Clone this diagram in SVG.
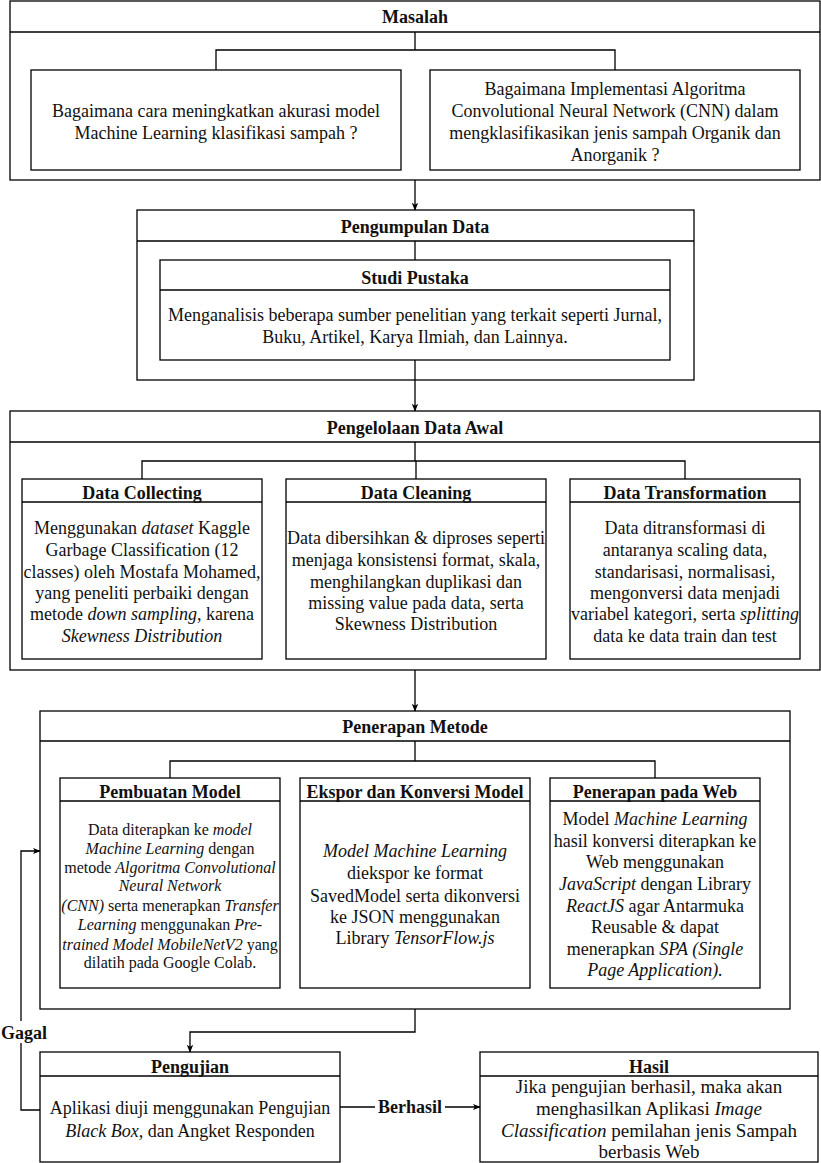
<svg xmlns="http://www.w3.org/2000/svg" width="821" height="1163" viewBox="0 0 821 1163">
<defs>
<marker id="arr" viewBox="0 0 10 10" refX="9" refY="5" markerWidth="8" markerHeight="8" markerUnits="userSpaceOnUse" orient="auto">
<path d="M0,1 L10,5 L0,9 L2.5,5 Z" fill="#000"/>
</marker>
<style>
rect{fill:#fff;stroke:#000;stroke-width:1.3}
.hl{stroke:#000;stroke-width:1.3;fill:none}
.c{stroke:#000;stroke-width:1.3;fill:none}
.ca{stroke:#000;stroke-width:1.3;fill:none;marker-end:url(#arr)}
svg text, svg tspan{font-family:"Liberation Serif","Times New Roman","DejaVu Serif",serif}
text{fill:#111;text-anchor:middle}
.t{font-weight:bold;font-size:18px}
.b{font-size:18px}
.h{font-size:19px}
.s{font-size:18px}
.xs{font-size:16px}
.i{font-style:italic}
.lbl{font-weight:bold;font-size:18px}
</style>
</defs>
<rect x="0" y="0" width="821" height="1163" style="stroke:none;fill:#fff"/>
<g style="font-family:'Liberation Serif','Times New Roman','DejaVu Serif',serif">
<g id="masalah">
<rect x="10" y="1" width="810" height="179"/>
<line class="hl" x1="10" y1="32" x2="820" y2="32"/>
<text class="t" x="415" y="23">Masalah</text>
</g>
<g id="masalah-1">
<rect x="31" y="70" width="370" height="100"/>
<text class="b" x="216" y="117">Bagaimana cara meningkatkan akurasi model</text>
<text class="b" x="216" y="139">Machine Learning klasifikasi sampah ?</text>
</g>
<g id="masalah-2">
<rect x="430" y="70" width="370" height="100"/>
<text class="b" x="615" y="95">Bagaimana Implementasi Algoritma</text>
<text class="b" x="615" y="117">Convolutional Neural Network (CNN) dalam</text>
<text class="b" x="615" y="139">mengklasifikasikan jenis sampah Organik dan</text>
<text class="b" x="615" y="161">Anorganik ?</text>
</g>

<g id="pengumpulan">
<rect x="137" y="210" width="557" height="170"/>
<line class="hl" x1="137" y1="241" x2="694" y2="241"/>
<text class="t" x="415" y="233">Pengumpulan Data</text>
</g>
<g id="studi-pustaka">
<rect x="160" y="260" width="510" height="100"/>
<line class="hl" x1="160" y1="290" x2="670" y2="290"/>
<text class="t" x="415" y="284">Studi Pustaka</text>
<text class="b" x="415" y="321">Menganalisis beberapa sumber penelitian yang terkait seperti Jurnal,</text>
<text class="b" x="415" y="343">Buku, Artikel, Karya Ilmiah, dan Lainnya.</text>
</g>

<g id="pengelolaan">
<rect x="10" y="411" width="810" height="259"/>
<line class="hl" x1="10" y1="442" x2="820" y2="442"/>
<text class="t" x="415" y="434">Pengelolaan Data Awal</text>
</g>
<g id="data-collecting">
<rect x="22" y="479" width="240" height="180"/>
<line class="hl" x1="22" y1="502" x2="262" y2="502"/>
<text class="t" x="142" y="499">Data Collecting</text>
<text class="b" x="142" y="534">Menggunakan <tspan class="i">dataset</tspan> Kaggle</text>
<text class="b" x="142" y="556">Garbage Classification (12</text>
<text class="b" x="142" y="578">classes) oleh Mostafa Mohamed,</text>
<text class="b" x="142" y="599">yang peneliti perbaiki dengan</text>
<text class="b" x="142" y="620">metode <tspan class="i">down sampling</tspan>, karena</text>
<text class="b i" x="142" y="642">Skewness Distribution</text>
</g>
<g id="data-cleaning">
<rect x="286" y="479" width="260" height="180"/>
<line class="hl" x1="286" y1="502" x2="546" y2="502"/>
<text class="t" x="416" y="499">Data Cleaning</text>
<text class="b" x="416" y="544">Data dibersihkan &amp; diproses seperti</text>
<text class="b" x="416" y="566">menjaga konsistensi format, skala,</text>
<text class="b" x="416" y="588">menghilangkan duplikasi dan</text>
<text class="b" x="416" y="609">missing value pada data, serta</text>
<text class="b" x="416" y="630">Skewness Distribution</text>
</g>
<g id="data-transformation">
<rect x="570" y="479" width="230" height="180"/>
<line class="hl" x1="570" y1="502" x2="800" y2="502"/>
<text class="t" x="685" y="499">Data Transformation</text>
<text class="b" x="685" y="534">Data ditransformasi di</text>
<text class="b" x="685" y="556">antaranya scaling data,</text>
<text class="b" x="685" y="578">standarisasi, normalisasi,</text>
<text class="b" x="685" y="599">mengonversi data menjadi</text>
<text class="b" x="685" y="620">variabel kategori, serta <tspan class="i">splitting</tspan></text>
<text class="b" x="685" y="642">data ke data train dan test</text>
</g>

<g id="penerapan-metode">
<rect x="40" y="711" width="750" height="298"/>
<line class="hl" x1="40" y1="741" x2="790" y2="741"/>
<text class="t" x="415" y="733">Penerapan Metode</text>
</g>
<g id="pembuatan-model">
<rect x="60" y="778" width="220" height="210"/>
<line class="hl" x1="60" y1="801" x2="280" y2="801"/>
<text class="t" x="170" y="798">Pembuatan Model</text>
<text class="xs" x="170" y="835">Data diterapkan ke <tspan class="i">model</tspan></text>
<text class="xs" x="170" y="854"><tspan class="i">Machine Learning</tspan> dengan</text>
<text class="xs" x="170" y="873">metode <tspan class="i">Algoritma Convolutional</tspan></text>
<text class="xs i" x="170" y="891">Neural Network</text>
<text class="xs" x="170" y="911"><tspan class="i">(CNN)</tspan> serta menerapkan <tspan class="i">Transfer</tspan></text>
<text class="xs" x="170" y="930"><tspan class="i">Learning</tspan> menggunakan <tspan class="i">Pre-</tspan></text>
<text class="xs" x="170" y="950"><tspan class="i">trained Model MobileNetV2</tspan> yang</text>
<text class="xs" x="170" y="968">dilatih pada Google Colab.</text>
</g>
<g id="ekspor-konversi">
<rect x="300" y="778" width="230" height="210"/>
<line class="hl" x1="300" y1="801" x2="530" y2="801"/>
<text class="t" x="415" y="798">Ekspor dan Konversi Model</text>
<text class="s i" x="415" y="857">Model Machine Learning</text>
<text class="s" x="415" y="879">diekspor ke format</text>
<text class="s" x="415" y="902">SavedModel serta dikonversi</text>
<text class="s" x="415" y="923">ke JSON menggunakan</text>
<text class="s" x="415" y="944">Library <tspan class="i">TensorFlow.js</tspan></text>
</g>
<g id="penerapan-web">
<rect x="550" y="778" width="210" height="210"/>
<line class="hl" x1="550" y1="801" x2="760" y2="801"/>
<text class="t" x="655" y="798">Penerapan pada Web</text>
<text class="s" x="655" y="825">Model <tspan class="i">Machine Learning</tspan></text>
<text class="s" x="655" y="847">hasil konversi diterapkan ke</text>
<text class="s" x="655" y="868">Web menggunakan</text>
<text class="s" x="655" y="890"><tspan class="i">JavaScript</tspan> dengan Library</text>
<text class="s" x="655" y="912"><tspan class="i">ReactJS</tspan> agar Antarmuka</text>
<text class="s" x="655" y="933">Reusable &amp; dapat</text>
<text class="s" x="655" y="955">menerapkan <tspan class="i">SPA (Single</tspan></text>
<text class="s i" x="655" y="976">Page Application).</text>
</g>

<g id="pengujian">
<rect x="40" y="1052" width="300" height="110"/>
<line class="hl" x1="40" y1="1076" x2="340" y2="1076"/>
<text class="t" x="190" y="1073">Pengujian</text>
<text class="b" x="190" y="1114">Aplikasi diuji menggunakan Pengujian</text>
<text class="b" x="190" y="1137"><tspan class="i">Black Box,</tspan> dan Angket Responden</text>
</g>
<g id="hasil">
<rect x="480" y="1052" width="338" height="110"/>
<line class="hl" x1="480" y1="1076" x2="818" y2="1076"/>
<text class="t" x="649" y="1073">Hasil</text>
<text class="h" x="649" y="1093">Jika pengujian berhasil, maka akan</text>
<text class="h" x="649" y="1115">menghasilkan Aplikasi <tspan class="i">Image</tspan></text>
<text class="h" x="649" y="1137"><tspan class="i">Classification</tspan> pemilahan jenis Sampah</text>
<text class="h" x="649" y="1158">berbasis Web</text>
</g>

<g id="connectors">
<path class="c" d="M415,32 V50 M216,70 V50 H615 V70"/>
<path class="ca" d="M415,180 V210"/>
<path class="c" d="M415,241 V260"/>
<path class="ca" d="M415,360 V411"/>
<path class="c" d="M415,442 V461 M142,479 V461 H685 V479 M416,461 V479"/>
<path class="ca" d="M415,670 V711"/>
<path class="c" d="M415,741 V761 M170,778 V761 H655 V778"/>
<path class="ca" d="M415,1009 V1032 H190 V1052"/>
<path class="ca" d="M40,1110 H21 V851 H40"/>
<path class="ca" d="M340,1107 H480"/>
<rect x="0" y="1021" width="48" height="22" style="stroke:none;fill:#fff"/>
<text class="lbl" x="24" y="1039">Gagal</text>
<rect x="375" y="1097" width="70" height="20" style="stroke:none;fill:#fff"/>
<text class="lbl" x="410" y="1113">Berhasil</text>
</g>
</g>
</svg>
